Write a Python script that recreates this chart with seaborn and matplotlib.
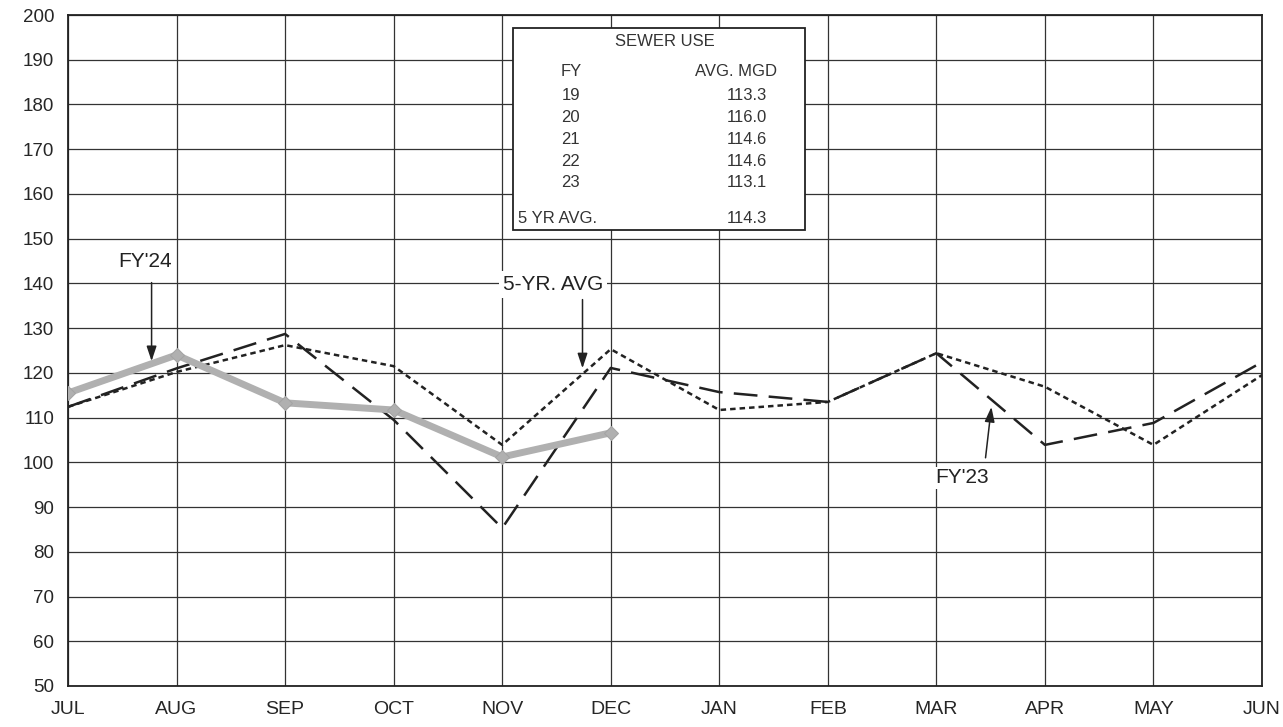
import matplotlib
matplotlib.use("Agg")
import matplotlib.pyplot as plt
import seaborn as sns
import pandas as pd
from matplotlib.patches import Rectangle

months = ["JUL", "AUG", "SEP", "OCT", "NOV", "DEC", "JAN", "FEB", "MAR", "APR", "MAY", "JUN"]
fy24 = [115.5, 124.0, 113.3, 111.7, 101.2, 106.6]
fy23 = [112.4, 121.0, 128.7, 109.5, 85.3, 121.1, 115.7, 113.5, 124.4, 103.9, 108.8, 122.4]
avg5 = [112.4, 120.2, 126.2, 121.5, 103.9, 125.3, 111.7, 113.5, 124.4, 116.9, 103.9, 119.5]

table_fy = ["19", "20", "21", "22", "23"]
table_mgd = ["113.3", "116.0", "114.6", "114.6", "113.1"]
table_avg = "114.3"

sns.set_style("white")
plt.rcParams['font.family'] = ['Liberation Sans', 'DejaVu Sans']

fig = plt.figure(figsize=(12.83, 7.27), dpi=100)
ax = fig.add_axes([68/1283, 41/727, (1262-68)/1283, (686-15)/727])

df23 = pd.DataFrame({"x": range(len(fy23)), "y": fy23})
dfa = pd.DataFrame({"x": range(len(avg5)), "y": avg5})
df24 = pd.DataFrame({"x": range(len(fy24)), "y": fy24})

sns.lineplot(data=df23, x="x", y="y", ax=ax, color="#222222", lw=1.8,
             zorder=4).lines[-1].set_dashes([9.5, 4.5])
sns.lineplot(data=dfa, x="x", y="y", ax=ax, color="#222222", lw=1.8,
             zorder=4).lines[-1].set_dashes([2.2, 1.6])
sns.lineplot(data=df24, x="x", y="y", ax=ax, color="#b0b0b0", lw=5,
             marker="D", markersize=7, markeredgecolor="#a4a4a4", zorder=5)

ax.set_xlim(0, 11)
ax.set_ylim(50, 200)
ax.set_xticks(range(12))
ax.set_xticklabels(months, fontsize=14)
ax.set_yticks(range(50, 201, 10))
ax.set_yticklabels([str(v) for v in range(50, 201, 10)], fontsize=13.5)
ax.grid(True, color="#333333", lw=0.9)
ax.set_axisbelow(True)
for s in ax.spines.values():
    s.set_color("#222222")
    s.set_linewidth(1.3)
ax.tick_params(axis="both", direction="out", length=5, width=0.9, color="#333333", pad=5)
ax.tick_params(axis="x", pad=6)
ax.set_xlabel("")
ax.set_ylabel("")

# table box
ax.add_patch(Rectangle((4.10, 152.0), 2.69, 45.1, facecolor="white",
                       edgecolor="#222222", lw=1.3, zorder=6))
tk = dict(fontsize=12, color="#333333", zorder=7)
ax.text(5.50, 194.0, "SEWER USE", ha="center", va="center", **tk)
ax.text(4.64, 187.3, "FY", ha="center", va="center", **tk)
ax.text(6.15, 187.3, "AVG. MGD", ha="center", va="center", **tk)
row_y = [181.9, 177.0, 172.1, 167.2, 162.5]
for fy, val, yy in zip(table_fy, table_mgd, row_y):
    ax.text(4.63, yy, fy, ha="center", va="center", **tk)
    ax.text(6.44, yy, val, ha="right", va="center", **tk)
ax.text(4.15, 154.4, "5 YR AVG.", ha="left", va="center", **tk)
ax.text(6.44, 154.4, table_avg, ha="right", va="center", **tk)

# annotations
ap = dict(arrowstyle="-|>,head_length=0.9,head_width=0.3", color="#222222", lw=1.1)
ax.text(0.71, 144.8, "FY'24", ha="center", va="center", fontsize=15, color="#222222")
ax.annotate("", xy=(0.77, 122.0), xytext=(0.77, 140.8), arrowprops=ap, zorder=8)
ax.text(4.47, 139.7, "5-YR. AVG", ha="center", va="center", fontsize=15, color="#222222",
        bbox=dict(facecolor="white", edgecolor="none", pad=3), zorder=7)
ax.annotate("", xy=(4.74, 120.4), xytext=(4.74, 137.0), arrowprops=ap, zorder=8)
ax.text(8.24, 96.5, "FY'23", ha="center", va="center", fontsize=15, color="#222222",
        bbox=dict(facecolor="white", edgecolor="none", pad=1), zorder=7)
ax.annotate("", xy=(8.51, 113.0), xytext=(8.45, 100.4), arrowprops=ap, zorder=8)

fig.savefig("out.png", dpi=100, facecolor="white")
